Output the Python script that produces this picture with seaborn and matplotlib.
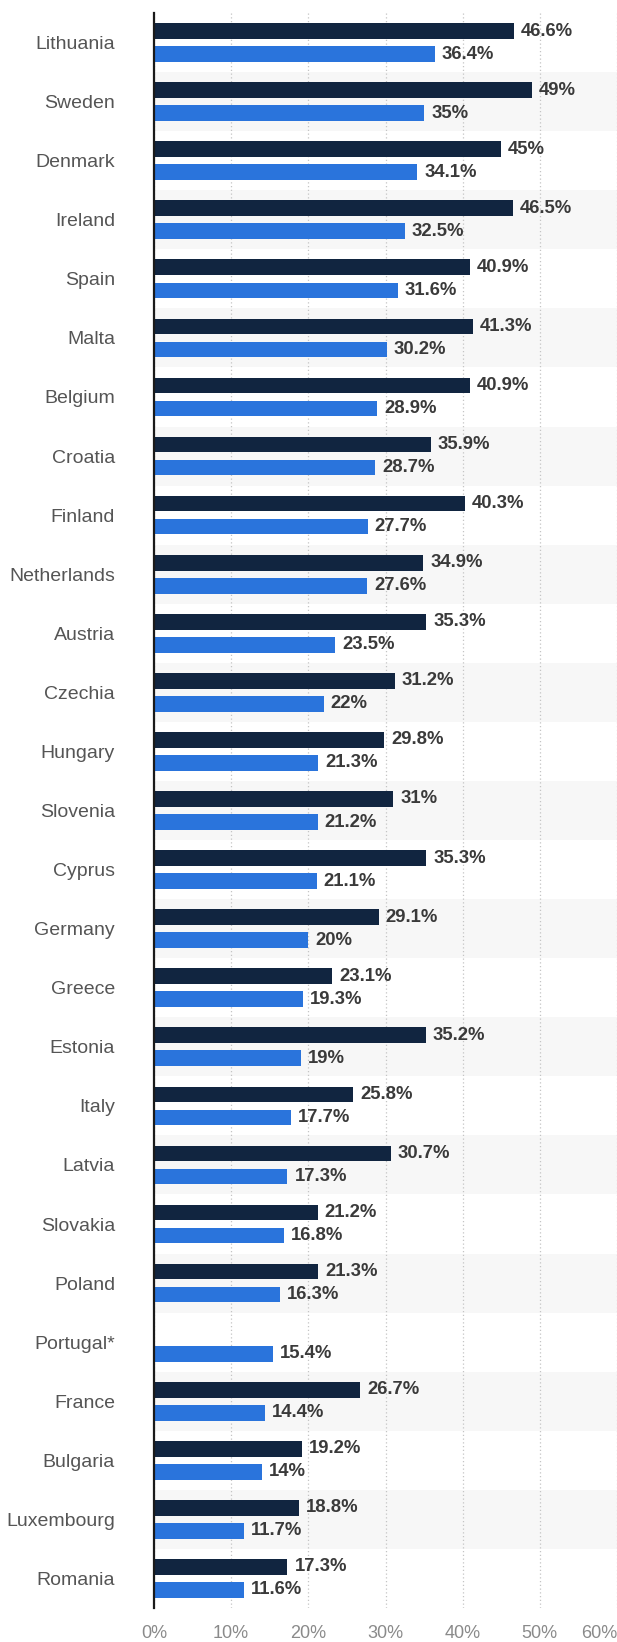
import numpy as np
import pandas as pd
import matplotlib
matplotlib.use("Agg")
import matplotlib.pyplot as plt
import matplotlib.transforms as mtransforms
import seaborn as sns

countries = ["Lithuania", "Sweden", "Denmark", "Ireland", "Spain", "Malta", "Belgium",
             "Croatia", "Finland", "Netherlands", "Austria", "Czechia", "Hungary",
             "Slovenia", "Cyprus", "Germany", "Greece", "Estonia", "Italy", "Latvia",
             "Slovakia", "Poland", "Portugal*", "France", "Bulgaria", "Luxembourg", "Romania"]
series_a = [46.6, 49, 45, 46.5, 40.9, 41.3, 40.9, 35.9, 40.3, 34.9, 35.3, 31.2, 29.8,
            31, 35.3, 29.1, 23.1, 35.2, 25.8, 30.7, 21.2, 21.3, np.nan, 26.7, 19.2, 18.8, 17.3]
series_b = [36.4, 35, 34.1, 32.5, 31.6, 30.2, 28.9, 28.7, 27.7, 27.6, 23.5, 22, 21.3,
            21.2, 21.1, 20, 19.3, 19, 17.7, 17.3, 16.8, 16.3, 15.4, 14.4, 14, 11.7, 11.6]
series_names = ["Series A", "Series B"]
x_ticks = [0, 10, 20, 30, 40, 50, 60]
x_tick_labels = ["0%", "10%", "20%", "30%", "40%", "50%", "60%"]

df = pd.DataFrame({
    "country": countries * 2,
    "value": series_a + series_b,
    "series": [series_names[0]] * len(countries) + [series_names[1]] * len(countries),
})
df = df.dropna()

sns.set_theme(style="white")
plt.rcParams["font.family"] = ["Liberation Sans", "DejaVu Sans"]

fig = plt.figure(figsize=(6.17, 16.42), dpi=100)
ax = fig.add_axes([154 / 617, 1 - 1608 / 1642, 1 - 154 / 617, (1608 - 13) / 1642])

for i in range(len(countries)):
    if i % 2 == 1:
        ax.axhspan(i - 0.5, i + 0.5, color="#f7f7f7", zorder=0, lw=0)

sns.barplot(data=df, x="value", y="country", hue="series", order=countries,
            hue_order=series_names, palette=["#112540", "#2a74dc"],
            orient="h", width=0.78, gap=0.32, saturation=1, legend=False, ax=ax,
            zorder=2, linewidth=0, edgecolor="none")

shift = mtransforms.ScaledTranslation(0, -2 / 100, fig.dpi_scale_trans)
for cont in ax.containers:
    texts = ax.bar_label(cont, fmt=lambda v: f"{v:g}%", padding=5, fontsize=13.3,
                         fontweight="bold", color="#3a3a3a")
    for t in texts:
        t.set_transform(t.get_transform() + shift)

ax.set_xlim(0, 60)
ax.set_ylim(len(countries) - 0.5, -0.5)
ax.set_xticks(x_ticks)
ax.set_xticklabels(x_tick_labels)
labels = ax.get_xticklabels()
labels[-1].set_ha("right")
ax.set_xlabel("")
ax.set_ylabel("")
ax.set_axisbelow(True)
ax.grid(axis="x", linestyle=(0, (1, 2)), color="#c4c4c4", lw=0.9, zorder=1)
ax.grid(axis="y", visible=False)
for s in ["top", "right", "bottom"]:
    ax.spines[s].set_visible(False)
ax.spines["left"].set_color("#1a1a1a")
ax.spines["left"].set_linewidth(1.6)
ax.spines["left"].set_zorder(5)
ax.tick_params(axis="y", length=0, pad=28, labelsize=14, labelcolor="#555555")
ax.tick_params(axis="x", length=0, pad=12, labelsize=13, labelcolor="#8a8a8a")
ax.set_facecolor("white")
fig.patch.set_facecolor("white")

fig.savefig("out.png", dpi=100)
